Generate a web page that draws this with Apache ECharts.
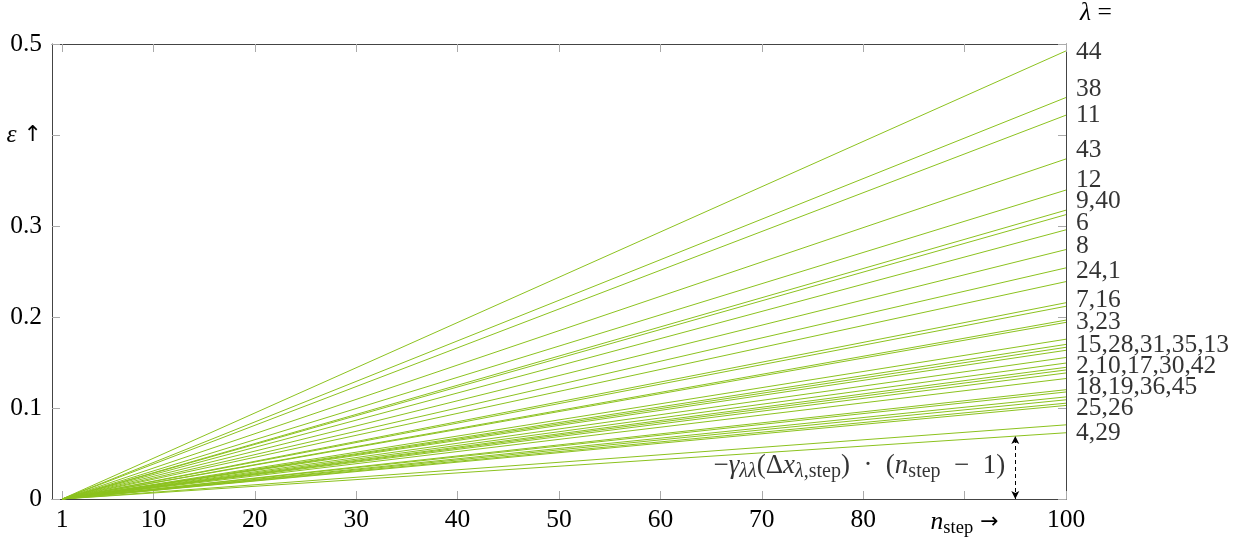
<!DOCTYPE html>
<html>
<head>
<meta charset="utf-8">
<script src="https://cdn.jsdelivr.net/npm/echarts@6/dist/echarts.min.js"></script>
<style>html,body{margin:0;padding:0;background:#fff;}#c{width:1242px;height:538px;}</style>
</head>
<body>
<div id="c"></div>
<script>
// ---- data ----
const lambdaIds = [44,38,11,43,12,9,40,6,8,24,1,7,16,3,23,15,28,31,35,13,2,10,17,30,42,18,19,36,45,25,26,4,29];
const endValues = [0.4924,0.4412,0.4218,0.3737,0.3395,0.3174,0.3125,0.2958,0.2741,0.2540,0.2389,0.2157,0.2118,0.1966,0.1941,
  0.1756,0.1699,0.1667,0.1634,0.1555,0.1494,0.1447,0.1418,0.1385,0.1324,0.1201,0.1176,0.1122,0.1090,0.1053,0.1028,0.0815,0.0728];
const xStart = 1, xEnd = 100;
const groupLabels = ['44','38','11','43','12','9,40','6','8','24,1','7,16','3,23','15,28,31,35,13','2,10,17,30,42','18,19,36,45','25,26','4,29'];
const groupLabelValues = [0.4913,0.4502,0.4221,0.3831,0.3506,0.3268,0.3030,0.2781,0.2500,0.2186,0.1937,0.1688,0.1461,0.1223,0.0996,0.0725];
const xTicks = [1,10,20,30,40,50,60,70,80,90,100];
const arrowX = 95;
const annotationY = 0.0368;

// ---- chart ----
const FONT = '"Liberation Serif", "DejaVu Serif", serif';
const LINE_COLOR = '#8cc21f';
const FS = 25.5, SFS = 18.5;
const richCommon = {
  t: {fontFamily: FONT, fontSize: FS, color: '#000', lineHeight: 30},
  i: {fontFamily: FONT, fontSize: FS, fontStyle: 'italic', color: '#000', lineHeight: 30},
  a: {fontFamily: '"DejaVu Sans", sans-serif', fontSize: 22, color: '#000', lineHeight: 30},
  s: {fontFamily: FONT, fontSize: SFS, color: '#000', lineHeight: 31, verticalAlign: 'bottom'},
  si: {fontFamily: FONT, fontSize: SFS, fontStyle: 'italic', color: '#000', lineHeight: 31, verticalAlign: 'bottom'}
};
const richFormula = {
  t: {fontFamily: FONT, fontSize: 27, color: '#000', lineHeight: 32},
  i: {fontFamily: FONT, fontSize: 27, fontStyle: 'italic', color: '#000', lineHeight: 32},
  s: {fontFamily: FONT, fontSize: 20, color: '#000', lineHeight: 33, verticalAlign: 'bottom'},
  si: {fontFamily: FONT, fontSize: 20, fontStyle: 'italic', color: '#000', lineHeight: 33, verticalAlign: 'bottom'}
};

const series = [];
lambdaIds.forEach((id, k) => {
  series.push({
    name: 'λ=' + id,
    type: 'line',
    xAxisIndex: 0, yAxisIndex: 0,
    data: [[xStart, 0], [xEnd, endValues[k]]],
    symbol: 'none',
    lineStyle: {color: LINE_COLOR, width: 1},
    silent: true,
    animation: false,
    z: 3
  });
});

const minEnd = Math.min(...endValues);
const arrowTop = minEnd * (arrowX - xStart) / (xEnd - xStart);

// group labels
series.push({
  type: 'scatter',
  data: groupLabels.map((t, k) => [xEnd, groupLabelValues[k], t]),
  symbolSize: 0,
  clip: false,
  silent: true,
  animation: false,
  label: {
    show: true, position: 'right', distance: 10,
    formatter: p => p.value[2],
    fontFamily: FONT, fontSize: FS, color: '#000'
  }
});

// arrow + annotation
series.push({
  type: 'scatter',
  data: [[arrowX, annotationY]],
  symbolSize: 0,
  silent: true,
  animation: false,
  label: {
    show: true, position: 'left', distance: 10,
    formatter: '{t|−}{i|γ}{si|λλ}{t|(Δ}{i|x}{si|λ}{s|,step}{t|)\u2002·\u2002(}{i|n}{s|step}{t|\u2002−\u20021)}',
    rich: richFormula
  },
  markLine: {
    silent: true,
    symbol: ['arrow', 'arrow'],
    symbolSize: [6, 8],
    label: {show: false},
    lineStyle: {color: '#000', type: [4, 3], width: 1},
    data: [[{coord: [arrowX, 0]}, {coord: [arrowX, arrowTop]}]],
    animation: false
  }
});

const chart = echarts.init(document.getElementById('c'), null, {renderer: 'canvas'});
chart.setOption({
  backgroundColor: '#fff',
  animation: false,
  grid: {left: 52, right: 176, top: 39, bottom: 37, containLabel: false},
  xAxis: [
    {
      type: 'value', min: 0, max: 100, position: 'bottom',
      axisLine: {show: true, onZero: false, lineStyle: {color: '#444', width: 1}},
      splitLine: {show: false},
      axisTick: {show: true, inside: true, length: 8, lineStyle: {color: '#aaa'}, customValues: xTicks},
      axisLabel: {
        show: true, margin: 8, customValues: xTicks,
        fontFamily: FONT, fontSize: FS, color: '#000',
        formatter: v => v === 90 ? '{i|n}{s|step}{a| →}' : String(v),
        rich: richCommon
      }
    },
    {
      type: 'value', min: 0, max: 100, position: 'top',
      axisLine: {show: true, onZero: false, lineStyle: {color: '#444', width: 1}},
      splitLine: {show: false},
      axisTick: {show: true, inside: true, length: 8, lineStyle: {color: '#aaa'}, customValues: xTicks},
      axisLabel: {show: false}
    }
  ],
  yAxis: [
    {
      type: 'value', min: 0, max: 0.5, interval: 0.1, position: 'left',
      axisLine: {show: true, onZero: false, lineStyle: {color: '#444', width: 1}},
      splitLine: {show: false},
      axisTick: {show: true, inside: true, length: 8, lineStyle: {color: '#aaa'}},
      axisLabel: {
        show: true, margin: 10,
        fontFamily: FONT, fontSize: FS, color: '#000',
        formatter: v => Math.abs(v - 0.4) < 1e-9 ? '{i|ε}{a| ↑}' : (v === 0 ? '0' : v.toFixed(1)),
        rich: richCommon
      }
    },
    {
      type: 'value', min: 0, max: 0.5, interval: 0.1, position: 'right',
      axisLine: {show: true, onZero: false, lineStyle: {color: '#444', width: 1}},
      splitLine: {show: false},
      axisTick: {show: true, inside: true, length: 8, lineStyle: {color: '#aaa'}},
      axisLabel: {show: false},
      name: '{i|λ}{t| =}',
      nameLocation: 'end',
      nameGap: 16,
      nameTextStyle: {align: 'left', padding: [0, 0, 0, 14], rich: richCommon}
    }
  ],
  series: series
});
</script>
</body>
</html>
